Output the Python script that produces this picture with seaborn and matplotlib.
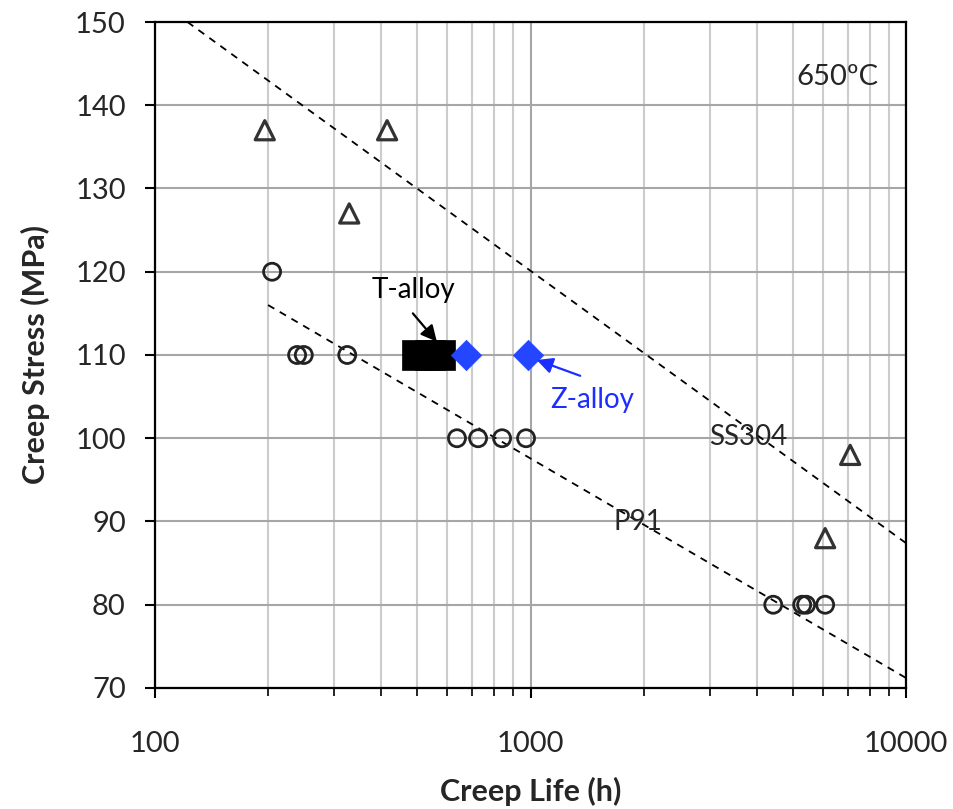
import matplotlib
matplotlib.use("Agg")
import matplotlib.pyplot as plt
import seaborn as sns
import pandas as pd
from matplotlib.ticker import LogLocator, NullFormatter, FixedLocator

# ---- data ----
ss304_life = [196, 415, 329, 7100, 6090]
ss304_stress = [137, 137, 127, 98, 88]

p91_life = [205, 239, 249, 325, 637, 725, 840, 973, 4430, 5290, 5420, 6090]
p91_stress = [120, 110, 110, 110, 100, 100, 100, 100, 80, 80, 80, 80]

talloy_life = [500, 540, 574]
talloy_stress = [110, 110, 110]

zalloy_life = [673, 985]
zalloy_stress = [110, 110]

ss304_trend_life = [122, 10000]
ss304_trend_stress = [150.0, 87.4]
p91_trend_life = [200, 10000]
p91_trend_stress = [116.0, 71.2]

y_ticks = [70, 80, 90, 100, 110, 120, 130, 140, 150]
x_ticks = [100, 1000, 10000]
x_tick_labels = ["100", "1000", "10000"]

sns.set_theme(style="white")
plt.rcParams['font.family'] = ['Lato', 'DejaVu Sans']

fig = plt.figure(figsize=(9.54, 8.09), dpi=100)
ax = fig.add_axes([0.1625, 0.1496, 0.7872, 0.8232])

ax.set_xscale("log")
ax.set_xlim(100, 10000)
ax.set_ylim(70, 150)

# grid
ax.xaxis.set_major_locator(FixedLocator(x_ticks))
ax.xaxis.set_minor_locator(LogLocator(base=10, subs=range(2, 10)))
ax.xaxis.set_minor_formatter(NullFormatter())
ax.set_xticks(x_ticks)
ax.set_xticklabels(x_tick_labels)
ax.set_yticks(y_ticks)
ax.grid(which="major", axis="both", color="#a6a6a6", linewidth=1.5, zorder=0)
ax.grid(which="minor", axis="x", color="#cccccc", linewidth=1.5, zorder=0)
ax.set_axisbelow(True)

# trend lines
sns.lineplot(x=ss304_trend_life, y=ss304_trend_stress, ax=ax, color="black",
             linestyle=(0, (4, 3.5)), linewidth=1.3, zorder=2)
sns.lineplot(x=p91_trend_life, y=p91_trend_stress, ax=ax, color="black",
             linestyle=(0, (4, 3.5)), linewidth=1.3, zorder=2)

# points
sns.scatterplot(x=ss304_life, y=ss304_stress, ax=ax, marker="^", s=190,
                facecolor="none", edgecolor="#333333", linewidth=2.3, zorder=3)
sns.scatterplot(x=p91_life, y=p91_stress, ax=ax, marker="o", s=150,
                facecolor="none", edgecolor="#222222", linewidth=2, zorder=3)
sns.scatterplot(x=talloy_life, y=talloy_stress, ax=ax, marker="s", s=440,
                color="black", edgecolor="black", linewidth=0.5, zorder=4)
sns.scatterplot(x=zalloy_life, y=zalloy_stress, ax=ax, marker="D", s=240,
                color="#2446ff", edgecolor="#2446ff", linewidth=0.5, zorder=4)

# arrows
ax.annotate("", xy=(563, 111.6), xytext=(486, 115.0),
            arrowprops=dict(arrowstyle="-|>", color="black", lw=1.6,
                            mutation_scale=24, shrinkA=0, shrinkB=0), zorder=5)
ax.annotate("", xy=(1039, 109.4), xytext=(1356, 107.5),
            arrowprops=dict(arrowstyle="-|>", color="#1c2eff", lw=1.6,
                            mutation_scale=24, shrinkA=0, shrinkB=0), zorder=5)

# labels
ax.text(489, 117.8, "T-alloy", fontsize=20, ha="center", va="center", color="black")
ax.text(1458, 104.6, "Z-alloy", fontsize=20, ha="center", va="center", color="#1c2eff")
ax.text(3794, 100.15, "SS304", fontsize=20, ha="center", va="center")
ax.text(1937, 89.9, "P91", fontsize=20, ha="center", va="center")
ax.text(6560, 143.4, "650ºC", fontsize=21, ha="center", va="center")

# spines and ticks
for sp in ax.spines.values():
    sp.set_visible(True)
    sp.set_color("black")
    sp.set_linewidth(1.6)
ax.tick_params(axis="both", which="major", direction="out", length=7, width=1.5,
               color="black", labelsize=21, bottom=True, left=True)
ax.tick_params(axis="x", which="major", pad=24)
ax.tick_params(axis="y", which="major", pad=14)
ax.tick_params(axis="x", which="minor", direction="out", length=6, width=1.2,
               color="black", bottom=True)

ax.set_xlabel("Creep Life (h)", fontsize=22, fontweight="bold", labelpad=14)
ax.set_ylabel("Creep Stress (MPa)", fontsize=22, fontweight="bold", labelpad=18)

fig.savefig("out.png", dpi=100)
